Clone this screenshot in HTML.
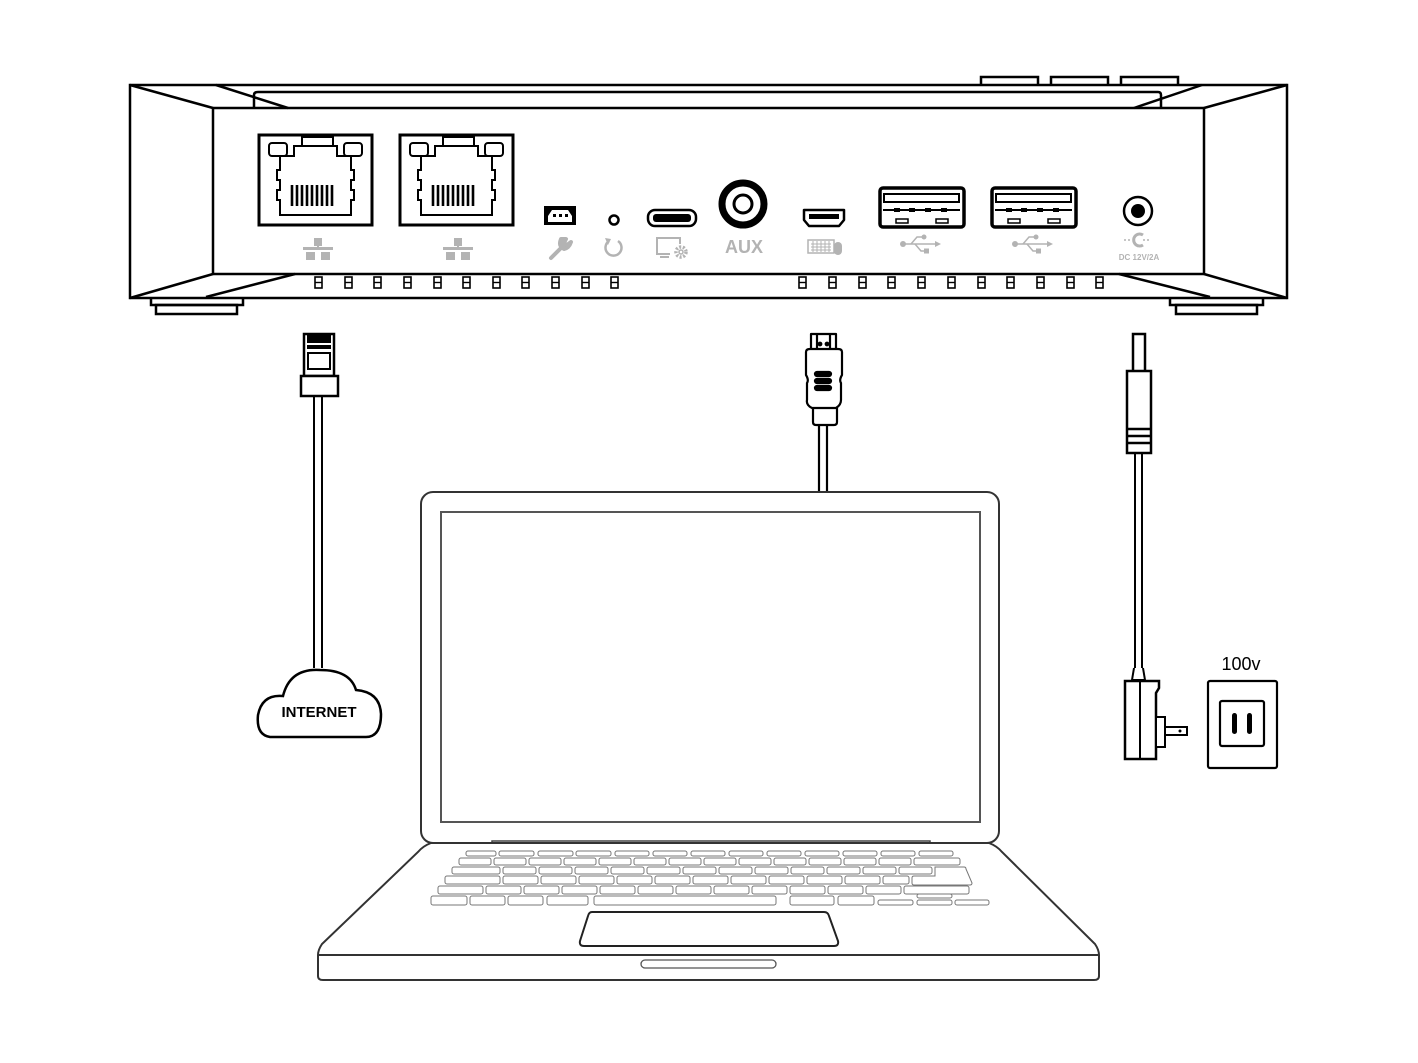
<!DOCTYPE html>
<html><head><meta charset="utf-8"><style>
html,body{margin:0;padding:0;background:#fff;}
svg{display:block;}
</style></head><body>
<svg width="1418" height="1063" viewBox="0 0 1418 1063" xmlns="http://www.w3.org/2000/svg">
<defs>
<g id="rj">
  <rect x="0" y="0" width="113" height="90" fill="none" stroke="#000" stroke-width="3"/>
  <rect x="43" y="2" width="31" height="9" fill="none" stroke="#000" stroke-width="2"/>
  <rect x="10" y="8" width="18" height="13" rx="3" fill="none" stroke="#000" stroke-width="2"/>
  <rect x="85" y="8" width="18" height="13" rx="3" fill="none" stroke="#000" stroke-width="2"/>
  <path d="M35,11 H78 V21 H92 V35 H95 V45 H92 V55 H95 V65 H92 V80 H21 V65 H18 V55 H21 V45 H18 V35 H21 V21 H35 Z" fill="none" stroke="#000" stroke-width="2"/>
  <g stroke="#000" stroke-width="2.6">
    <line x1="33" y1="50" x2="33" y2="71"/><line x1="38" y1="50" x2="38" y2="71"/><line x1="43" y1="50" x2="43" y2="71"/>
    <line x1="48" y1="50" x2="48" y2="71"/><line x1="53" y1="50" x2="53" y2="71"/><line x1="58" y1="50" x2="58" y2="71"/>
    <line x1="63" y1="50" x2="63" y2="71"/><line x1="68" y1="50" x2="68" y2="71"/><line x1="73" y1="50" x2="73" y2="71"/>
  </g>
</g>
<g id="vent"><rect x="0" y="0" width="7" height="11" fill="none" stroke="#000" stroke-width="1.6"/><line x1="0" y1="5.5" x2="7" y2="5.5" stroke="#000" stroke-width="1.4"/></g>
<g id="net" fill="#b3b3b3"><rect x="-4" y="0" width="8" height="8"/><rect x="-15" y="9" width="30" height="3"/><rect x="-1" y="7" width="2" height="4"/><rect x="-12" y="14" width="9" height="8"/><rect x="3" y="14" width="9" height="8"/></g>
<g id="usbA">
  <rect x="0" y="0" width="84" height="39" rx="3" fill="none" stroke="#000" stroke-width="3.5"/>
  <rect x="4" y="6" width="75" height="8" fill="none" stroke="#000" stroke-width="2"/>
  <path d="M3,22 H80" stroke="#000" stroke-width="2"/>
  <rect x="14" y="20" width="6" height="4" fill="#000"/><rect x="29" y="20" width="6" height="4" fill="#000"/><rect x="45" y="20" width="6" height="4" fill="#000"/><rect x="61" y="20" width="6" height="4" fill="#000"/>
  <rect x="16" y="31" width="12" height="4" fill="none" stroke="#000" stroke-width="1.5"/><rect x="56" y="31" width="12" height="4" fill="none" stroke="#000" stroke-width="1.5"/>
</g>
<g id="usbsym" fill="#b3b3b3" stroke="#b3b3b3">
  <circle cx="0" cy="0" r="3" stroke="none"/><line x1="0" y1="0" x2="32" y2="0" stroke-width="1.5"/>
  <path d="M32,-3 L38,0 L32,3Z" stroke="none"/>
  <path d="M8,0 L14,-7 H20" fill="none" stroke-width="1.5"/><circle cx="21" cy="-7" r="2.5" stroke="none"/>
  <path d="M12,0 L18,7 H22" fill="none" stroke-width="1.5"/><rect x="21" y="4.5" width="5" height="5" stroke="none"/>
</g>
</defs>

<!-- DEVICE -->
<g fill="none" stroke="#000" stroke-width="2.5" stroke-linejoin="miter">
  <rect x="981" y="77" width="57" height="9" fill="#fff"/>
  <rect x="1051" y="77" width="57" height="9" fill="#fff"/>
  <rect x="1121" y="77" width="57" height="9" fill="#fff"/>
  <rect x="130" y="85" width="1157" height="213" fill="#fff"/>
  <path d="M254,108 V95 Q254,92 258,92 H1158 Q1161,92 1161,95 V108"/>
  <rect x="213" y="108" width="991" height="166"/>
  <line x1="130" y1="85" x2="213" y2="108"/>
  <line x1="216" y1="85" x2="288" y2="108"/>
  <line x1="130" y1="298" x2="213" y2="274"/>
  <line x1="206" y1="297" x2="295" y2="274"/>
  <line x1="1134" y1="108" x2="1202" y2="85"/>
  <line x1="1204" y1="108" x2="1287" y2="85"/>
  <line x1="1119" y1="274" x2="1210" y2="297"/>
  <line x1="1204" y1="274" x2="1287" y2="298"/>
  <path d="M151,298 V305 H243 V298"/><rect x="156" y="305" width="81" height="9"/>
  <path d="M1170,298 V305 H1263 V298"/><rect x="1176" y="305" width="81" height="9"/>
</g>
<use href="#rj" x="259" y="135"/>
<use href="#rj" x="400" y="135"/>
<!-- vents -->
<g>
  <use href="#vent" x="315" y="277"/><use href="#vent" x="345" y="277"/><use href="#vent" x="374" y="277"/><use href="#vent" x="404" y="277"/><use href="#vent" x="434" y="277"/><use href="#vent" x="463" y="277"/><use href="#vent" x="493" y="277"/><use href="#vent" x="522" y="277"/><use href="#vent" x="552" y="277"/><use href="#vent" x="582" y="277"/><use href="#vent" x="611" y="277"/>
  <use href="#vent" x="799" y="277"/><use href="#vent" x="829" y="277"/><use href="#vent" x="859" y="277"/><use href="#vent" x="888" y="277"/><use href="#vent" x="918" y="277"/><use href="#vent" x="948" y="277"/><use href="#vent" x="978" y="277"/><use href="#vent" x="1007" y="277"/><use href="#vent" x="1037" y="277"/><use href="#vent" x="1067" y="277"/><use href="#vent" x="1096" y="277"/>
</g>
<!-- small ports -->
<rect x="544" y="206" width="32" height="19" fill="#000"/>
<path d="M548,216 L552,210 H568 L572,216 V222 H548Z" fill="#fff"/>
<rect x="553" y="214" width="3" height="3" fill="#000"/><rect x="559" y="214" width="3" height="3" fill="#000"/><rect x="565" y="214" width="3" height="3" fill="#000"/>
<circle cx="614" cy="220" r="4.5" fill="none" stroke="#000" stroke-width="2.5"/>
<rect x="648" y="210" width="48" height="16" rx="7" fill="none" stroke="#000" stroke-width="2.5"/>
<rect x="653" y="214" width="38" height="8" rx="3" fill="#000"/>
<circle cx="743" cy="204" r="21" fill="none" stroke="#000" stroke-width="7"/>
<circle cx="743" cy="204" r="9" fill="none" stroke="#000" stroke-width="3"/>
<path d="M804,210 H844 V220 L839,226 H809 L804,220Z" fill="none" stroke="#000" stroke-width="2.5" stroke-linejoin="round"/>
<rect x="809" y="214" width="30" height="5" fill="#000"/>
<use href="#usbA" x="880" y="188"/>
<use href="#usbA" x="992" y="188"/>
<circle cx="1138" cy="211" r="14" fill="none" stroke="#000" stroke-width="2.5"/>
<circle cx="1138" cy="211" r="7" fill="#000"/>
<!-- gray labels -->
<use href="#net" x="318" y="238"/>
<use href="#net" x="458" y="238"/>
<path d="M551,258 L563,246 M561,239 Q558,246 564,249 Q569,248 571,242 L567,245 L564,243 L566,239Z" stroke="#b3b3b3" stroke-width="4" fill="#b3b3b3" stroke-linecap="round" stroke-linejoin="round"/>
<path d="M609,241 A8,8 0 1 0 618,241" fill="none" stroke="#b3b3b3" stroke-width="2.5"/>
<path d="M605,238 L611,239 L608,245Z" fill="#b3b3b3"/>
<path d="M670,254 H657 V238 H680 V244" fill="none" stroke="#b3b3b3" stroke-width="2"/>
<line x1="660" y1="257" x2="669" y2="257" stroke="#b3b3b3" stroke-width="2"/>
<circle cx="681" cy="252" r="5" fill="none" stroke="#b3b3b3" stroke-width="3.5" stroke-dasharray="2 1.6"/>
<circle cx="681" cy="252" r="2" fill="none" stroke="#b3b3b3" stroke-width="1.5"/>
<text x="744" y="253" font-family="Liberation Sans, sans-serif" font-weight="bold" font-size="18" fill="#b3b3b3" text-anchor="middle">AUX</text>
<rect x="808" y="240" width="26" height="13" fill="none" stroke="#b3b3b3" stroke-width="1.5"/>
<path d="M811,244 H831 M811,247 H831 M811,250 H831 M813,241 V252 M817,241 V252 M821,241 V252 M825,241 V252 M829,241 V252" stroke="#b3b3b3" stroke-width="1"/>
<rect x="834" y="242" width="8" height="13" rx="4" fill="#b3b3b3"/>
<use href="#usbsym" x="903" y="244"/>
<use href="#usbsym" x="1015" y="244"/>
<path d="M1143,235 A6,6 0 1 0 1143,245" fill="none" stroke="#b3b3b3" stroke-width="3"/>
<path d="M1124,240 H1130 M1143,240 H1150" stroke="#b3b3b3" stroke-width="1.5" stroke-dasharray="2 2"/>
<text x="1139" y="260" font-family="Liberation Sans, sans-serif" font-weight="bold" font-size="8" fill="#b3b3b3" text-anchor="middle">DC 12V/2A</text>

<!-- ETHERNET CABLE -->
<g fill="none" stroke="#000" stroke-width="2">
  <rect x="304" y="334" width="30" height="42" fill="#fff" stroke-width="2.5"/>
  <rect x="308" y="334" width="22" height="8" fill="#000"/>
  <rect x="308" y="346" width="22" height="2" fill="#000"/>
  <rect x="308" y="353" width="22" height="16"/>
  <rect x="301" y="376" width="37" height="20" fill="#fff" stroke-width="2.5"/>
  <line x1="314" y1="396" x2="314" y2="668"/><line x1="322" y1="396" x2="322" y2="668"/>
</g>
<path d="M270,737 Q256,735 258,715 Q262,694 283,696 Q290,668 320,670 Q350,670 356,690 Q380,692 381,714 Q381,737 366,737Z" fill="#fff" stroke="#000" stroke-width="2.5"/>
<text x="319" y="717" font-family="Liberation Sans, sans-serif" font-weight="bold" font-size="15" text-anchor="middle">INTERNET</text>

<!-- HDMI CABLE -->
<g fill="none" stroke="#000" stroke-width="2.2" stroke-linejoin="round">
  <path d="M811,350 V334 H836 V350"/>
  <line x1="817" y1="334" x2="817" y2="350"/><line x1="830" y1="334" x2="830" y2="350"/>
  <circle cx="820" cy="344" r="1.3" fill="#000"/><circle cx="827" cy="344" r="1.3" fill="#000"/>
  <path d="M806,352 Q806,349 810,349 H838 Q842,349 842,352 V375 Q839,380 841,383 V400 Q841,405 836,408 H812 Q806,405 807,400 V383 Q809,380 806,375Z" fill="#fff"/>
  <rect x="815" y="372" width="16" height="4" rx="2" fill="#000"/>
  <rect x="815" y="379" width="16" height="4" rx="2" fill="#000"/>
  <rect x="815" y="386" width="16" height="4" rx="2" fill="#000"/>
  <path d="M813,408 V422 Q813,425 816,425 H834 Q837,425 837,422 V408"/>
  <line x1="819" y1="425" x2="819" y2="492"/><line x1="827" y1="425" x2="827" y2="492"/>
</g>

<!-- POWER CABLE -->
<g fill="none" stroke="#000" stroke-width="2.5">
  <rect x="1133" y="334" width="12" height="38"/>
  <rect x="1127" y="371" width="24" height="82" fill="#fff"/>
  <line x1="1127" y1="429" x2="1151" y2="429"/><line x1="1127" y1="436" x2="1151" y2="436"/><line x1="1127" y1="443" x2="1151" y2="443"/>
  <line x1="1135" y1="453" x2="1135" y2="668" stroke-width="2"/><line x1="1142" y1="453" x2="1142" y2="668" stroke-width="2"/>
  <path d="M1134,668 L1132,680 H1145 L1143,668" stroke-width="2"/>
  <path d="M1125,681 H1159 V688 L1156,693 V759 H1125Z" fill="#fff"/>
  <line x1="1140" y1="681" x2="1140" y2="759" stroke-width="2"/>
  <rect x="1156" y="717" width="9" height="30" fill="#fff" stroke-width="2"/>
  <rect x="1165" y="727" width="22" height="8" fill="#fff" stroke-width="2"/>
  <circle cx="1180" cy="731" r="1.5" fill="#000" stroke="none"/>
  <rect x="1208" y="681" width="69" height="87" rx="2" stroke-width="2.2"/>
  <rect x="1220" y="701" width="44" height="45" rx="2" stroke-width="2.2"/>
</g>
<rect x="1232" y="713" width="5" height="21" rx="2.5" fill="#000"/>
<rect x="1247" y="713" width="5" height="21" rx="2.5" fill="#000"/>
<text x="1241" y="670" font-family="Liberation Sans, sans-serif" font-size="18" text-anchor="middle">100v</text>

<!-- LAPTOP -->
<g fill="none" stroke="#000" stroke-width="2">
  <path d="M421,505 Q421,492 434,492 H986 Q999,492 999,505 V829 Q999,842 990,843 Q997,846 1001,852 L1097,1000" stroke="none"/>
  <rect x="421" y="492" width="578" height="351" rx="12" stroke="#333"/>
  <rect x="441" y="512" width="539" height="310" stroke="#555"/>
  <path d="M492,843 V841 H930 V843" stroke="#444" stroke-width="1.5"/>
  <path d="M431,843 Q423,846 418,852 L322,944 Q318,950 318,955 H1099 Q1099,950 1095,944 L1002,852 Q997,846 989,843Z" fill="#fff" stroke="#333"/>
  <path d="M318,955 V976 Q318,980 323,980 H1094 Q1099,980 1099,976 V955" stroke="#333"/>
  <rect x="641" y="960" width="135" height="8" rx="4" stroke="#555" stroke-width="1.3"/>
  <path d="M592,912 H824 Q828,912 829,916 L838,941 Q839,946 834,946 H584 Q579,946 580,941 L588,916 Q589,912 592,912Z" stroke="#222"/>
</g>
<!-- keyboard -->
<g fill="none" stroke="#777" stroke-width="1">
  <g id="r1">
    <rect x="466" y="851" width="30" height="5" rx="2"/><rect x="499" y="851" width="35" height="5" rx="2"/><rect x="538" y="851" width="35" height="5" rx="2"/><rect x="576" y="851" width="35" height="5" rx="2"/><rect x="615" y="851" width="34" height="5" rx="2"/><rect x="653" y="851" width="34" height="5" rx="2"/><rect x="691" y="851" width="34" height="5" rx="2"/><rect x="729" y="851" width="34" height="5" rx="2"/><rect x="767" y="851" width="34" height="5" rx="2"/><rect x="805" y="851" width="34" height="5" rx="2"/><rect x="843" y="851" width="34" height="5" rx="2"/><rect x="881" y="851" width="34" height="5" rx="2"/><rect x="919" y="851" width="34" height="5" rx="2"/>
  </g>
  <rect x="459" y="858" width="32" height="7" rx="2"/><rect x="494" y="858" width="32" height="7" rx="2"/><rect x="529" y="858" width="32" height="7" rx="2"/><rect x="564" y="858" width="32" height="7" rx="2"/><rect x="599" y="858" width="32" height="7" rx="2"/><rect x="634" y="858" width="32" height="7" rx="2"/><rect x="669" y="858" width="32" height="7" rx="2"/><rect x="704" y="858" width="32" height="7" rx="2"/><rect x="739" y="858" width="32" height="7" rx="2"/><rect x="774" y="858" width="32" height="7" rx="2"/><rect x="809" y="858" width="32" height="7" rx="2"/><rect x="844" y="858" width="32" height="7" rx="2"/><rect x="879" y="858" width="32" height="7" rx="2"/><rect x="914" y="858" width="46" height="7" rx="2"/>
  <rect x="452" y="867" width="48" height="7" rx="2"/><rect x="503" y="867" width="33" height="7" rx="2"/><rect x="539" y="867" width="33" height="7" rx="2"/><rect x="575" y="867" width="33" height="7" rx="2"/><rect x="611" y="867" width="33" height="7" rx="2"/><rect x="647" y="867" width="33" height="7" rx="2"/><rect x="683" y="867" width="33" height="7" rx="2"/><rect x="719" y="867" width="33" height="7" rx="2"/><rect x="755" y="867" width="33" height="7" rx="2"/><rect x="791" y="867" width="33" height="7" rx="2"/><rect x="827" y="867" width="33" height="7" rx="2"/><rect x="863" y="867" width="33" height="7" rx="2"/><rect x="899" y="867" width="33" height="7" rx="2"/>
  <path d="M935,867 H964 Q966,867 966,869 L972,883 Q972,885 970,885 H914 Q912,885 912,883 V878 Q912,876 914,876 H935Z"/>
  <rect x="445" y="876" width="55" height="8" rx="2"/><rect x="503" y="876" width="35" height="8" rx="2"/><rect x="541" y="876" width="35" height="8" rx="2"/><rect x="579" y="876" width="35" height="8" rx="2"/><rect x="617" y="876" width="35" height="8" rx="2"/><rect x="655" y="876" width="35" height="8" rx="2"/><rect x="693" y="876" width="35" height="8" rx="2"/><rect x="731" y="876" width="35" height="8" rx="2"/><rect x="769" y="876" width="35" height="8" rx="2"/><rect x="807" y="876" width="35" height="8" rx="2"/><rect x="845" y="876" width="35" height="8" rx="2"/><rect x="883" y="876" width="26" height="8" rx="2"/>
  <rect x="438" y="886" width="45" height="8" rx="2"/><rect x="486" y="886" width="35" height="8" rx="2"/><rect x="524" y="886" width="35" height="8" rx="2"/><rect x="562" y="886" width="35" height="8" rx="2"/><rect x="600" y="886" width="35" height="8" rx="2"/><rect x="638" y="886" width="35" height="8" rx="2"/><rect x="676" y="886" width="35" height="8" rx="2"/><rect x="714" y="886" width="35" height="8" rx="2"/><rect x="752" y="886" width="35" height="8" rx="2"/><rect x="790" y="886" width="35" height="8" rx="2"/><rect x="828" y="886" width="35" height="8" rx="2"/><rect x="866" y="886" width="35" height="8" rx="2"/><rect x="904" y="886" width="65" height="8" rx="2"/>
  <rect x="431" y="896" width="36" height="9" rx="2"/><rect x="470" y="896" width="35" height="9" rx="2"/><rect x="508" y="896" width="35" height="9" rx="2"/><rect x="547" y="896" width="41" height="9" rx="2"/><rect x="594" y="896" width="182" height="9" rx="2"/><rect x="790" y="896" width="44" height="9" rx="2"/><rect x="838" y="896" width="36" height="9" rx="2"/><rect x="878" y="900" width="35" height="5" rx="2"/><rect x="917" y="900" width="35" height="5" rx="2"/><rect x="917" y="894" width="35" height="4" rx="2"/><rect x="955" y="900" width="34" height="5" rx="2"/>
</g>
</svg>
</body></html>
